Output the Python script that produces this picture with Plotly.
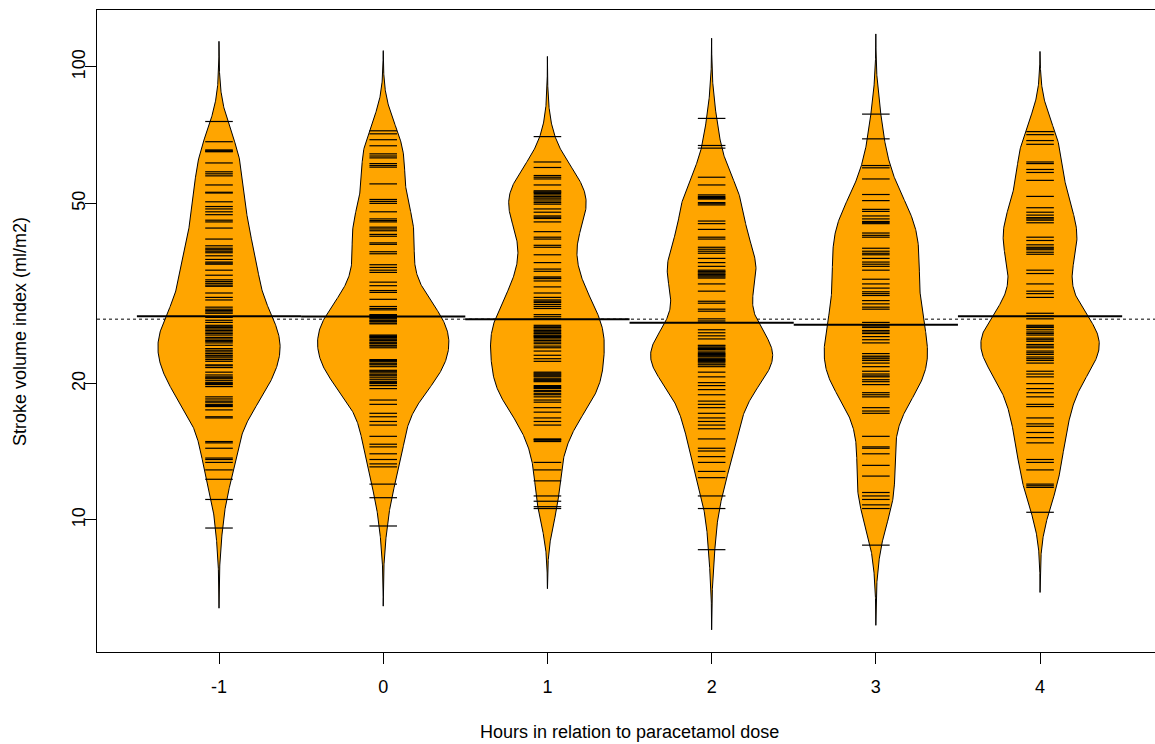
import numpy as np
import plotly.graph_objects as go

# ---- data (stroke volume index, ml/m2) ----
hours = ["-1", "0", "1", "2", "3", "4"]

svi_m1 = [75.8, 68.4, 65.6, 65.3, 65.2, 65.0, 61.4, 58.7, 58.1, 57.5, 54.9, 52.9, 52.7, 50.4, 49.2,
          48.6, 47.9, 47.2, 45.9, 45.5, 44.1, 41.7, 40.3, 39.8, 39.5, 39.2, 38.9, 38.3, 37.6, 37.1,
          36.9, 36.7, 35.6, 34.7, 33.9, 33.6, 33.3, 33.0, 32.8, 31.7, 31.0, 30.6, 29.5, 29.2, 29.0,
          28.8, 28.6, 28.0, 27.6, 27.3, 26.9, 26.7, 26.6, 26.4, 26.2, 26.0, 25.8, 25.6, 25.3, 25.1,
          24.9, 24.8, 24.6, 24.3, 23.9, 23.7, 23.5, 23.3, 23.1, 23.0, 22.8, 22.6, 22.4, 22.0, 21.9,
          21.7, 21.2, 20.9, 20.7, 20.6, 20.5, 20.3, 20.1, 20.0, 19.9, 19.7, 18.7, 18.5, 18.3, 18.2,
          18.0, 17.9, 17.8, 17.5, 16.9, 16.8, 14.9, 14.8, 14.4, 13.7, 13.6, 13.4, 12.9, 12.3, 11.1,
          9.6]

svi_0 = [72.3, 71.2, 69.1, 67.0, 64.3, 63.6, 63.0, 61.2, 60.6, 60.1, 55.2, 51.0, 50.5, 50.0, 47.9,
         46.2, 45.8, 45.5, 44.3, 43.9, 43.5, 42.7, 42.3, 40.9, 40.6, 39.1, 38.7, 36.6, 36.1, 35.6,
         35.2, 33.5, 32.9, 32.1, 31.8, 30.7, 29.6, 29.3, 29.1, 28.4, 28.3, 28.2, 28.1, 28.0, 27.9,
         27.8, 27.6, 27.5, 27.4, 27.2, 27.1, 25.6, 25.5, 25.4, 25.3, 25.2, 25.0, 24.9, 24.7, 24.6,
         24.5, 24.3, 24.2, 24.0, 22.6, 22.5, 22.4, 22.2, 22.1, 22.0, 21.8, 21.4, 21.3, 21.2, 21.0,
         20.9, 20.8, 20.6, 20.4, 20.2, 20.1, 20.0, 19.8, 19.5, 18.4, 18.0, 17.2, 16.9, 16.5, 16.2,
         15.3, 14.7, 14.5, 14.0, 13.6, 13.3, 13.1, 12.0, 11.2, 9.7]

svi_1 = [70.2, 61.7, 60.0, 57.6, 57.1, 56.6, 54.9, 53.3, 53.0, 52.9, 52.6, 52.2, 51.8, 51.4, 51.1,
         50.6, 50.2, 49.8, 48.6, 47.8, 46.9, 46.6, 46.3, 45.5, 43.3, 42.1, 41.7, 40.4, 40.0, 38.5,
         37.0, 35.8, 35.4, 34.4, 34.2, 34.1, 33.7, 32.7, 31.7, 31.0, 30.6, 30.4, 30.2, 29.9, 29.6,
         29.3, 28.4, 28.1, 27.8, 26.9, 26.7, 26.6, 26.4, 26.2, 26.1, 25.9, 25.8, 25.6, 25.5, 25.4,
         25.3, 25.1, 24.9, 24.7, 24.5, 24.2, 24.0, 23.6, 23.1, 22.7, 22.4, 21.2, 21.1, 21.0, 20.9,
         20.8, 20.7, 20.5, 20.4, 20.3, 20.2, 19.8, 19.7, 19.6, 19.5, 19.3, 19.2, 19.0, 18.9, 18.7,
         18.4, 18.2, 17.7, 17.3, 16.8, 16.5, 16.2, 15.1, 15.05, 15.0, 14.9, 13.4, 12.9, 12.2, 11.3,
         11.0, 10.7, 10.6]

svi_2 = [77.0, 67.1, 66.2, 57.1, 54.9, 52.2, 51.8, 51.5, 51.3, 51.1, 50.2, 49.9, 49.6, 45.7, 45.1,
         43.8, 42.1, 41.7, 40.0, 39.6, 39.2, 38.8, 37.8, 37.0, 36.3, 35.6, 35.4, 35.3, 35.1, 34.9,
         34.8, 34.6, 34.4, 34.2, 33.2, 32.0, 30.4, 30.1, 29.2, 28.9, 27.8, 27.5, 26.3, 25.9, 25.5,
         25.1, 24.3, 24.2, 24.0, 23.9, 23.8, 23.6, 23.4, 23.3, 23.2, 23.1, 23.0, 22.9, 22.7, 22.6,
         22.5, 22.4, 22.3, 22.1, 22.0, 21.8, 21.2, 20.7, 20.1, 19.8, 19.4, 18.9, 18.3, 18.0, 17.7,
         17.2, 16.8, 16.5, 16.2, 15.9, 15.1, 14.4, 14.2, 13.8, 13.4, 12.8, 12.4, 11.3, 10.6, 8.6]

svi_3 = [78.7, 69.4, 60.6, 59.9, 56.6, 52.3, 50.7, 48.5, 48.0, 46.9, 46.2, 45.6, 45.4, 45.1, 43.0,
         42.5, 42.1, 39.8, 39.2, 38.8, 38.5, 37.8, 37.1, 36.7, 36.3, 35.6, 34.0, 33.2, 32.5, 31.9,
         31.6, 31.3, 30.5, 30.0, 29.5, 29.2, 27.3, 27.0, 26.8, 26.6, 26.2, 26.0, 25.8, 25.4, 25.0,
         24.6, 23.3, 23.0, 22.9, 22.7, 22.5, 22.2, 21.8, 21.3, 21.0, 20.8, 20.7, 20.4, 20.2, 19.9,
         19.1, 18.9, 18.7, 17.7, 17.4, 17.2, 15.3, 14.5, 14.4, 14.0, 13.2, 12.5, 11.5, 11.3, 11.1,
         10.8, 10.6, 8.8]

svi_4 = [72.0, 70.9, 68.8, 67.5, 61.7, 61.2, 59.4, 58.5, 56.2, 51.8, 48.9, 47.8, 47.1, 46.5, 46.2,
         45.9, 45.3, 42.1, 41.4, 40.5, 40.0, 39.8, 39.5, 39.0, 38.6, 35.6, 35.0, 33.2, 32.0, 31.6,
         31.0, 28.6, 28.2, 27.8, 26.9, 26.7, 26.6, 26.3, 26.0, 25.8, 25.6, 25.2, 25.0, 24.8, 24.4,
         24.2, 24.0, 23.6, 23.4, 23.2, 22.9, 22.7, 22.5, 22.2, 21.3, 21.0, 20.7, 20.0, 19.5, 19.1,
         18.7, 18.0, 17.8, 16.8, 16.3, 16.1, 15.6, 15.2, 14.8, 13.6, 13.4, 12.9, 12.0, 11.9, 11.8,
         10.4]

groups = [svi_m1, svi_0, svi_1, svi_2, svi_3, svi_4]
y_ticks = [10, 20, 50, 100]

# ---- beanplot-style settings ----
BW = 0.059          # kernel bandwidth in log10 units
CUT = 3             # density extends CUT bandwidths beyond the data
MAXWIDTH = 0.8      # full width of the widest bean
LL = 0.168          # length of bean lines
ORANGE = "#FFA500"
FONT = "Liberation Sans, Arial, sans-serif"
FS = 18
XR = [0.257, 6.70]

positions = list(range(1, len(groups) + 1))
dens_list = []
for vals in groups:
    lv = np.log10(np.asarray(vals, dtype=float))
    grid = np.linspace(lv.min() - CUT * BW, lv.max() + CUT * BW, 512)
    z = (grid[:, None] - lv[None, :]) / BW
    d = np.exp(-0.5 * z ** 2).sum(axis=1) / (len(lv) * BW * np.sqrt(2 * np.pi))
    dens_list.append((grid, d))
scale = (MAXWIDTH / 2) / max(d.max() for _, d in dens_list)

fig = go.Figure()

all_log = np.log10(np.concatenate([np.asarray(g, float) for g in groups]))
overall = 10 ** all_log.mean()

for pos, vals, (grid, d) in zip(positions, groups, dens_list):
    w = d * scale
    xs = np.concatenate([pos + w, (pos - w)[::-1]])
    ys = np.concatenate([10 ** grid, (10 ** grid)[::-1]])
    fig.add_trace(go.Scatter(x=xs, y=ys, mode="lines", fill="toself", fillcolor=ORANGE,
                             line=dict(color="black", width=1), hoverinfo="skip", showlegend=False))
    bx, by = [], []
    for v in vals:
        bx += [pos - LL / 2, pos + LL / 2, None]
        by += [v, v, None]
    fig.add_trace(go.Scatter(x=bx, y=by, mode="lines", line=dict(color="black", width=1.2),
                             hoverinfo="skip", showlegend=False))

for pos, vals in zip(positions, groups):
    gm = 10 ** np.log10(np.asarray(vals, float)).mean()
    fig.add_trace(go.Scatter(x=[pos - 0.5, pos + 0.5], y=[gm, gm], mode="lines",
                             line=dict(color="black", width=2), hoverinfo="skip", showlegend=False))

fig.add_shape(type="line", xref="paper", x0=0, x1=1, yref="y", y0=overall, y1=overall,
              line=dict(color="black", width=1, dash="dot"), layer="below")

fig.update_layout(
    width=1155, height=744,
    margin=dict(l=97, r=0, t=10, b=92),
    paper_bgcolor="white", plot_bgcolor="white",
    font=dict(family=FONT, size=FS, color="black"),
    showlegend=False,
    xaxis=dict(range=XR, tickvals=positions, ticktext=hours, showgrid=False, zeroline=False,
               showline=True, mirror=True, linecolor="black", linewidth=1,
               ticks="outside", ticklen=11, tickcolor="black", tickfont=dict(size=FS),
               ticklabelstandoff=7),
    yaxis=dict(type="log", range=[0.7086, 2.1258], tickvals=y_ticks,
               ticktext=[str(t) for t in y_ticks], tickangle=-90,
               showgrid=False, zeroline=False, showline=True, linecolor="black", linewidth=1,
               ticks="outside", ticklen=11, tickcolor="black", tickfont=dict(size=FS),
               ticklabelstandoff=-7, automargin=False),
    annotations=[
        dict(text="Hours in relation to paracetamol dose", xref="paper", yref="paper",
             x=0.503, y=-0.1246, xanchor="center", yanchor="middle", showarrow=False,
             font=dict(size=FS)),
        dict(text="Stroke volume index (ml/m2)", xref="paper", yref="paper",
             x=-0.0728, y=0.5, xanchor="center", yanchor="middle", textangle=-90,
             showarrow=False, font=dict(size=FS)),
    ],
)

fig.write_html("out.html", config={"displayModeBar": False},
               post_script="document.body.style.margin='0';document.body.style.overflow='hidden';")
